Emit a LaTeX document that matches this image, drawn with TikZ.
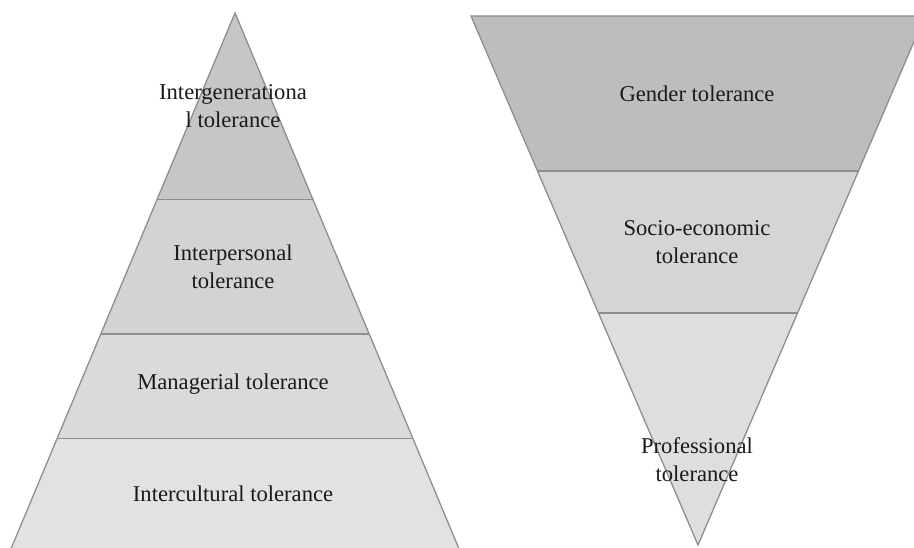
\documentclass[tikz,border=0pt]{standalone}
\usepackage{fontspec}
\setmainfont{Liberation Serif}
\usetikzlibrary{calc}
\definecolor{edge}{HTML}{8E8E8E}
\definecolor{lA}{HTML}{C6C6C6}
\definecolor{lB}{HTML}{D3D3D3}
\definecolor{lC}{HTML}{DADADA}
\definecolor{lD}{HTML}{E2E2E2}
\definecolor{rA}{HTML}{BDBDBD}
\definecolor{rB}{HTML}{D5D5D5}
\definecolor{rC}{HTML}{DEDEDE}
\definecolor{txt}{HTML}{1A1A1A}
\begin{document}
\begin{tikzpicture}[x=1pt,y=-1pt,
  band/.style={draw=edge,line width=1.3pt,line join=miter},
  lbl/.style={align=center,text=txt,font=\fontsize{22.6}{28}\selectfont,inner sep=0pt}]
\useasboundingbox (0,0) rectangle (914,548);
\clip (0,0) rectangle (914,548);
% left pyramid
\coordinate (LA) at (235,13);
\coordinate (LBL) at (10.5,550);
\coordinate (LBR) at (459.5,550);
\coordinate (l1) at ($(LA)!0.3477!(LBL)$);
\coordinate (r1) at ($(LA)!0.3477!(LBR)$);
\coordinate (l2) at ($(LA)!0.598!(LBL)$);
\coordinate (r2) at ($(LA)!0.598!(LBR)$);
\coordinate (l3) at ($(LA)!0.7925!(LBL)$);
\coordinate (r3) at ($(LA)!0.7925!(LBR)$);
\fill[lD] (l3) -- (r3) -- (LBR) -- (LBL) -- cycle;
\fill[lC] (l2) -- (r2) -- (r3) -- (l3) -- cycle;
\fill[lB] (l1) -- (r1) -- (r2) -- (l2) -- cycle;
\fill[lA] (LA) -- (r1) -- (l1) -- cycle;
\draw[band] (LBL) -- (LA) -- (LBR);
\draw[band] (l1) -- (r1) (l2) -- (r2) (l3) -- (r3);
% right inverted triangle
\coordinate (RTL) at (471,16);
\coordinate (RTR) at (925,16);
\coordinate (RB) at (698,545);
\coordinate (a1) at ($(RTL)!0.293!(RB)$);
\coordinate (b1) at ($(RTR)!0.293!(RB)$);
\coordinate (a2) at ($(RTL)!0.5614!(RB)$);
\coordinate (b2) at ($(RTR)!0.5614!(RB)$);
\fill[rA] (RTL) -- (RTR) -- (b1) -- (a1) -- cycle;
\fill[rB] (a1) -- (b1) -- (b2) -- (a2) -- cycle;
\fill[rC] (a2) -- (b2) -- (RB) -- cycle;
\draw[band] (RTL) -- (RTR) -- (RB) -- cycle;
\draw[band] (a1) -- (b1) (a2) -- (b2);
% labels
\node[lbl] (t1) at (233,106) {Intergenerationa\\l tolerance};
\node[lbl] (t2) at (233,267) {Interpersonal\\tolerance};
\node[lbl] (t3) at (233,384) {Managerial tolerance};
\node[lbl] (t4) at (233,494) {Intercultural tolerance};
\node[lbl] (t5) at (697,94) {Gender tolerance};
\node[lbl] (t6) at (697,242) {Socio-economic\\tolerance};
\node[lbl] (t7) at (697,460) {Professional\\tolerance};
\end{tikzpicture}
\end{document}
